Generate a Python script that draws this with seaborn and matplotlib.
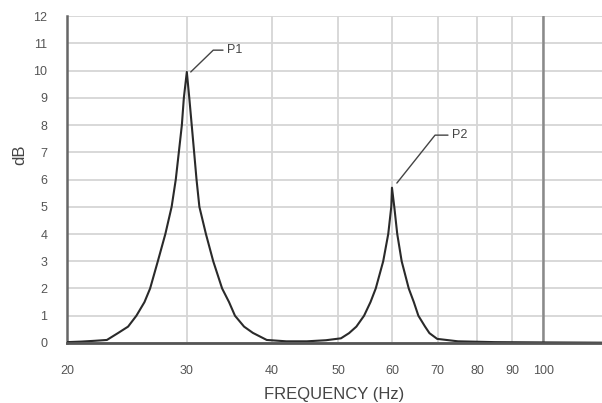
import matplotlib
matplotlib.use('Agg')
import matplotlib.pyplot as plt
import seaborn as sns

sns.set_theme(style="white")
plt.rcParams['font.family'] = ['Liberation Sans', 'DejaVu Sans']

# frequency response (Hz, dB)
freq = [20, 21, 22, 22.9, 23.8, 24.6, 25.3, 26.0, 26.5, 27.2, 27.9, 28.5, 28.9, 29.2,
        29.5, 29.7, 30.0, 30.25, 30.5, 30.75, 31.0, 31.3, 32.0, 32.8, 33.8, 34.6,
        35.3, 36.4, 37.5, 39.3, 42, 45, 48, 50.5, 51.9, 53.2, 54.6, 55.8, 56.8, 58.25,
        59.25, 59.86, 60.0, 60.47, 61.08, 62.0, 63.5, 64.6, 65.6, 67.1, 68.1, 69.9,
        75, 85, 100, 122]
db = [0.03, 0.05, 0.08, 0.11, 0.37, 0.6, 1.0, 1.5, 2.0, 3.0, 4.0, 5.0, 6.0, 7.0,
      8.0, 9.0, 9.95, 9.0, 8.0, 7.0, 6.0, 5.0, 4.0, 3.0, 2.0, 1.5,
      1.0, 0.6, 0.37, 0.11, 0.06, 0.06, 0.1, 0.17, 0.36, 0.6, 1.0, 1.5, 2.0, 3.0,
      4.0, 5.0, 5.7, 5.0, 4.0, 3.0, 2.0, 1.5, 1.0, 0.6, 0.36, 0.15,
      0.06, 0.03, 0.02, 0.01]

x_ticks = [20, 30, 40, 50, 60, 70, 80, 90, 100]
y_ticks = list(range(0, 13))

# peak callouts: name, peak point, elbow, end of leader, text position
peaks = ['P1', 'P2']
peak_pts = [(30.4, 9.95), (61.0, 5.87)]
elbows = [(32.8, 10.75), (69.4, 7.63)]
ends = [(33.9, 10.75), (72.5, 7.63)]
text_pos = [(34.4, 10.75), (73.6, 7.63)]

fig = plt.figure(figsize=(6.02, 4.03), dpi=100)
ax = fig.add_axes([0.111, 0.149, 0.889, 0.811])

sns.lineplot(x=freq, y=db, sort=False, color='#2a2a2a', linewidth=1.5, ax=ax, zorder=3)

ax.set_xscale('log')
ax.set_xlim(20, 122)
ax.set_ylim(0, 12)
ax.set_xticks(x_ticks)
ax.set_xticklabels([str(t) for t in x_ticks])
ax.xaxis.set_minor_locator(matplotlib.ticker.NullLocator())
ax.set_yticks(y_ticks)

ax.grid(True, color='#d6d6d6', linewidth=1.3)
ax.axvline(100, color='#8a8a8a', linewidth=1.8, zorder=2)

for s in ['top', 'right']:
    ax.spines[s].set_visible(False)
ax.spines['left'].set_color('#666666')
ax.spines['left'].set_linewidth(1.8)
ax.spines['bottom'].set_color('#555555')
ax.spines['bottom'].set_linewidth(2.0)
ax.spines['bottom'].set_zorder(4)

ax.tick_params(axis='x', length=0, pad=16, labelsize=9, labelcolor='#555555')
ax.tick_params(axis='y', length=0, pad=14, labelsize=9, labelcolor='#555555')

for name, p, e, q, t in zip(peaks, peak_pts, elbows, ends, text_pos):
    ax.plot([p[0], e[0], q[0]], [p[1], e[1], q[1]], color='#444444', linewidth=1.0, zorder=3)
    ax.text(t[0], t[1], name, fontsize=9, color='#444444', va='center', ha='left')

ax.set_xlabel('FREQUENCY (Hz)', fontsize=12, color='#444444', labelpad=7)
ax.set_ylabel('dB', fontsize=12, color='#444444')
ax.yaxis.set_label_coords(-0.088, 0.575)
ax.yaxis.label.set_verticalalignment('center')

fig.savefig('out.png', dpi=100)
